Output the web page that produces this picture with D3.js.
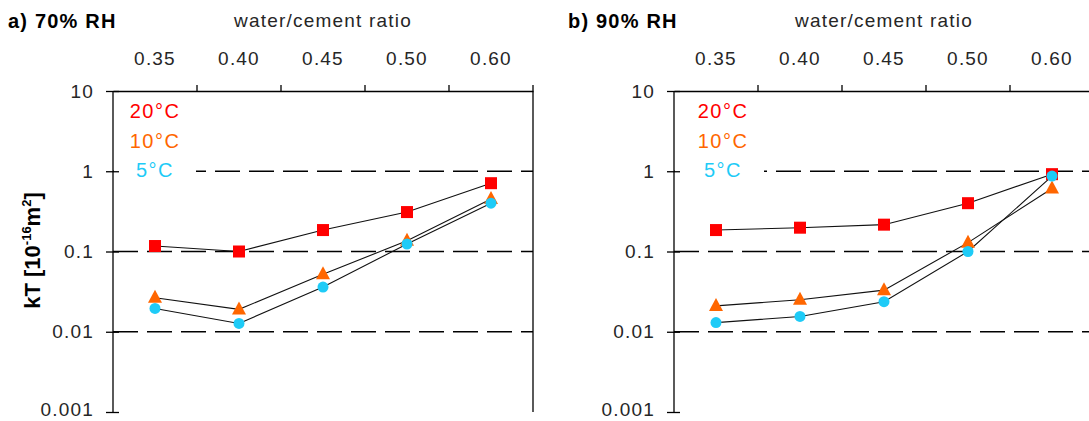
<!DOCTYPE html>
<html>
<head>
<meta charset="utf-8">
<script src="https://cdn.jsdelivr.net/npm/d3@7"></script>
<style>
  html, body { margin: 0; padding: 0; background: #fff; }
  svg { display: block; font-family: "Liberation Sans", Arial, sans-serif; }
</style>
</head>
<body>
<svg id="chart" width="1089" height="421"></svg>
<script>
const categories = ["0.35", "0.40", "0.45", "0.50", "0.60"];
const yTicks = [0.001, 0.01, 0.1, 1, 10];
const yTickLabels = ["0.001", "0.01", "0.1", "1", "10"];
const seriesNames = ["20°C", "10°C", "5°C"];
const seriesColors = ["#ff0000", "#ff6600", "#1ecbf7"];
const seriesShapes = ["square", "triangle", "circle"];

// a) 70% RH
const rh70_20C = [0.117, 0.100, 0.185, 0.31, 0.71];
const rh70_10C = [0.0265, 0.019, 0.052, 0.136, 0.45];
const rh70_5C  = [0.0195, 0.0127, 0.036, 0.124, 0.40];
// b) 90% RH
const rh90_20C = [0.185, 0.198, 0.216, 0.40, 0.92];
const rh90_10C = [0.021, 0.025, 0.033, 0.129, 0.61];
const rh90_5C  = [0.013, 0.0155, 0.0237, 0.100, 0.87];

const svg = d3.select("#chart");
const plotTop = 91, plotH = 321, plotW = 420;
const textGray = "#262626";

function drawPanel(left, title, series, legendCx, legendBoxRight, showYTitle) {
  const g = svg.append("g").attr("transform", `translate(${left},${plotTop})`);
  const x = d3.scaleBand().domain(categories).range([0, plotW]);
  const y = d3.scaleLog().domain([0.001, 10]).range([plotH, 0]);

  // dashed gridlines
  g.selectAll("line.grid").data([0.01, 0.1, 1]).join("line")
    .attr("class", "grid")
    .attr("x1", 0).attr("x2", plotW)
    .attr("y1", d => y(d)).attr("y2", d => y(d))
    .attr("stroke", "#000").attr("stroke-width", 1.3)
    .attr("stroke-dasharray", "25,9");

  // legend box (white background covering gridline)
  g.append("rect").attr("x", 1).attr("y", 6)
    .attr("width", legendBoxRight - 1).attr("height", 84)
    .attr("fill", "#fff");

  // right border
  g.append("line").attr("x1", plotW).attr("x2", plotW)
    .attr("y1", 0).attr("y2", plotH).attr("stroke", "#000").attr("stroke-width", 1.3);

  // top axis (categories)
  const xAxis = d3.axisTop(x).tickSize(0).tickPadding(26);
  const xa = g.append("g").call(xAxis);
  xa.select(".domain").attr("stroke", "#000").attr("stroke-width", 1.3);
  xa.selectAll("text").attr("font-size", 19).attr("fill", textGray)
    .attr("letter-spacing", 1.2)
    .attr("font-family", "Liberation Sans, Arial, sans-serif");
  // boundary ticks
  const bounds = d3.range(1, categories.length + 1).map(i => i * x.step());
  g.selectAll("line.xtick").data(bounds).join("line")
    .attr("class", "xtick")
    .attr("x1", d => d).attr("x2", d => d)
    .attr("y1", -6).attr("y2", 0)
    .attr("stroke", "#000").attr("stroke-width", 1.3);

  // left axis
  const yAxis = d3.axisLeft(y).tickValues(yTicks)
    .tickFormat((d, i) => yTickLabels[i]).tickSize(7).tickPadding(12);
  const ya = g.append("g").call(yAxis);
  ya.select(".domain").attr("stroke", "#000").attr("stroke-width", 1.3)
    .attr("d", `M0,0V${plotH}`);
  ya.selectAll(".tick line").attr("x1", 6).attr("stroke", "#000").attr("stroke-width", 1.3);
  ya.selectAll("text").attr("font-size", 19).attr("fill", textGray)
    .attr("letter-spacing", 1.2)
    .attr("font-family", "Liberation Sans, Arial, sans-serif")
    .attr("y", d => d === 0.001 ? -3 : 0);

  // series lines
  const line = d3.line()
    .x((d, i) => x(categories[i]) + x.bandwidth() / 2)
    .y(d => y(d));
  series.forEach(s => {
    g.append("path").datum(s).attr("d", line)
      .attr("fill", "none").attr("stroke", "#111").attr("stroke-width", 1.1);
  });

  // markers
  [0, 1, 2].forEach(si => {
    const s = series[si];
    const cx = (d, i) => x(categories[i]) + x.bandwidth() / 2;
    if (seriesShapes[si] === "square") {
      g.selectAll(null).data(s).join("rect")
        .attr("x", (d, i) => cx(d, i) - 6).attr("y", d => y(d) - 6)
        .attr("width", 12).attr("height", 12)
        .attr("fill", seriesColors[si]);
    } else if (seriesShapes[si] === "triangle") {
      g.selectAll(null).data(s).join("path")
        .attr("d", (d, i) => {
          const px = cx(d, i), py = y(d);
          return `M${px},${py - 8}L${px + 7},${py + 5}L${px - 7},${py + 5}Z`;
        })
        .attr("fill", seriesColors[si]);
    } else {
      g.selectAll(null).data(s).join("circle")
        .attr("cx", (d, i) => cx(d, i)).attr("cy", d => y(d))
        .attr("r", 5.5).attr("fill", seriesColors[si]);
    }
  });

  // legend
  const leg = g.append("g");
  seriesNames.forEach((n, i) => {
    leg.append("text").attr("x", legendCx).attr("y", 27 + i * 29.5)
      .attr("text-anchor", "middle").attr("font-size", 20)
      .attr("letter-spacing", 1.5)
      .attr("fill", seriesColors[i]).text(n);
  });

  // x axis title
  svg.append("text").attr("x", left + plotW / 2).attr("y", 27)
    .attr("text-anchor", "middle").attr("font-size", 19).attr("fill", textGray)
    .attr("letter-spacing", 1.2)
    .text("water/cement ratio");

  // panel title
  svg.append("text").attr("x", title.x).attr("y", 28)
    .attr("font-size", 20).attr("font-weight", "bold").attr("fill", "#000")
    .attr("letter-spacing", 1.2)
    .text(title.text);

  if (showYTitle) {
    const t = svg.append("text")
      .attr("transform", `translate(40,${plotTop + y(0.1) - 1})rotate(-90)`)
      .attr("text-anchor", "middle").attr("font-size", 22).attr("font-weight", "bold")
      .attr("fill", "#000");
    t.append("tspan").text("kT [10");
    t.append("tspan").attr("font-size", 13).attr("dy", -9).text("-16");
    t.append("tspan").attr("dy", 9).text("m");
    t.append("tspan").attr("font-size", 13).attr("dy", -9).text("2");
    t.append("tspan").attr("dy", 9).text("]");
  }
}

drawPanel(113, {x: 8, text: "a) 70% RH"}, [rh70_20C, rh70_10C, rh70_5C], 42, 83, true);
drawPanel(674, {x: 568, text: "b) 90% RH"}, [rh90_20C, rh90_10C, rh90_5C], 49, 90, false);
</script>
</body>
</html>
